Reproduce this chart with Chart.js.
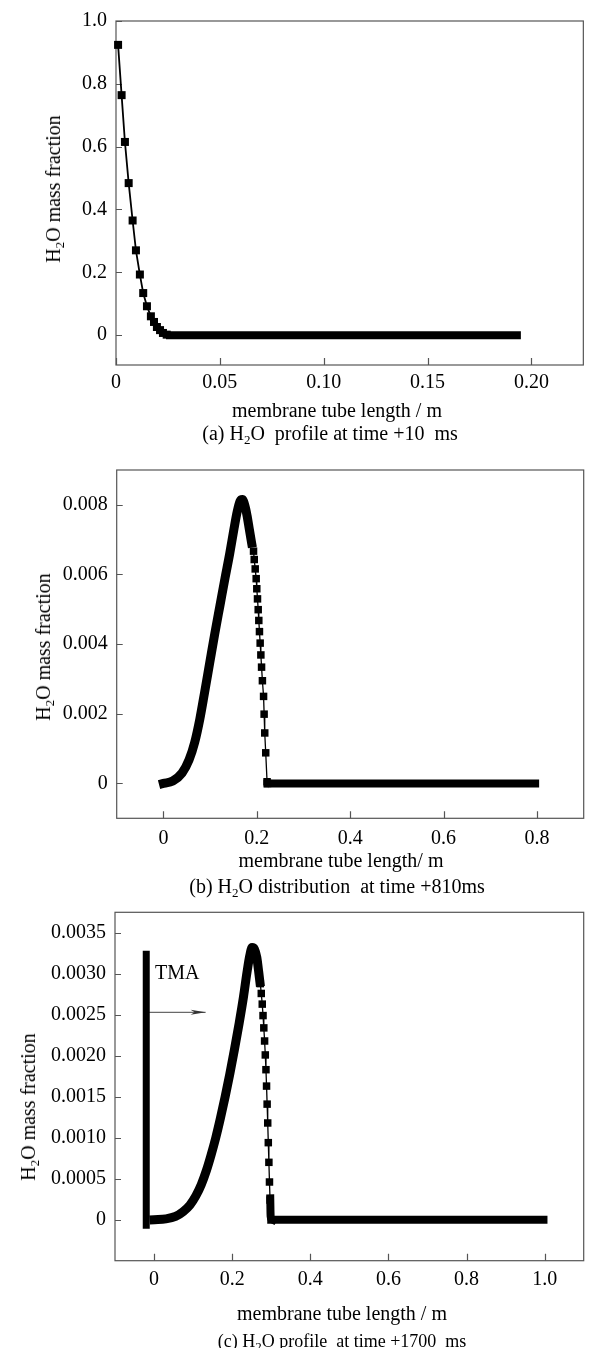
<!DOCTYPE html>
<html><head><meta charset="utf-8">
<script src="https://cdn.jsdelivr.net/npm/chart.js@4.4.1/dist/chart.umd.min.js"></script>
<style>
html,body{margin:0;padding:0;background:#fff;}
#wrap{position:relative;width:589px;height:1348px;overflow:hidden;font-family:'Liberation Serif','Times New Roman',serif;color:#000;}
canvas{position:absolute;left:0;}
.t{position:absolute;white-space:nowrap;font-size:20px;line-height:1;transform:translate(-50%,-50%);}
.r{transform:translate(-50%,-50%) rotate(-90deg);}
sub{font-size:13px;vertical-align:-4px;line-height:0;}
</style></head>
<body><div id="wrap">
<canvas id="ca" width="589" height="440" style="top:0"></canvas>
<canvas id="cb" width="589" height="450" style="top:440px"></canvas>
<canvas id="cc" width="589" height="458" style="top:890px"></canvas>

<div class="t r" style="left:53px;top:189px">H<sub>2</sub>O mass fraction</div>
<div class="t" style="left:337px;top:410px">membrane tube length / m</div>
<div class="t" style="left:330px;top:433px">(a) H<sub>2</sub>O&nbsp; profile at time +10&nbsp; ms</div>

<div class="t r" style="left:43px;top:647px">H<sub>2</sub>O mass fraction</div>
<div class="t" style="left:341px;top:860px">membrane tube length/ m</div>
<div class="t" style="left:337px;top:886px">(b) H<sub>2</sub>O distribution&nbsp; at time +810ms</div>

<div class="t r" style="left:28px;top:1107px">H<sub>2</sub>O mass fraction</div>
<div class="t" style="left:342px;top:1313px">membrane tube length / m</div>
<div class="t" style="left:342px;top:1341px;font-size:18px">(c) H<sub>2</sub>O profile&nbsp; at time +1700&nbsp; ms</div>
<div class="t" style="left:155px;top:972px;transform:translate(0,-50%)">TMA</div>
</div>
<script>
// ---------- Panel (a): H2O profile at +10 ms ----------
const aMarkX = [0.001, 0.0027, 0.0043, 0.0061, 0.0080, 0.0096, 0.0115, 0.0131, 0.0149, 0.0168, 0.0183, 0.0197, 0.0212, 0.0226, 0.0244];
const aMarkY = [0.924, 0.764, 0.615, 0.484, 0.365, 0.270, 0.193, 0.134, 0.092, 0.060, 0.042, 0.026, 0.016, 0.007, 0.0016];
const aFlatX = [0.026, 0.193];
const aFlatY = [0, 0];
const aXTicks = [0, 0.05, 0.10, 0.15, 0.20];
const aXLabels = ['0', '0.05', '0.10', '0.15', '0.20'];
const aYTicks = [0, 0.2, 0.4, 0.6, 0.8, 1.0];
const aYLabels = ['0', '0.2', '0.4', '0.6', '0.8', '1.0'];

// ---------- Panel (b): H2O distribution at +810 ms ----------
const bBandX = [0, 0.02, 0.04, 0.055, 0.067, 0.078, 0.088, 0.099, 0.110, 0.121, 0.132, 0.142, 0.151, 0.158, 0.164, 0.169, 0.174, 0.179, 0.184, 0.189];
const bBandY = [0, 0.00007, 0.0003, 0.00068, 0.00118, 0.00185, 0.0026, 0.00345, 0.0043, 0.0051, 0.0059, 0.0066, 0.0073, 0.0078, 0.0081, 0.00815, 0.0080, 0.0077, 0.0073, 0.0069];
const bMarkX = [0.193, 0.1945, 0.1966, 0.1987, 0.2000, 0.2015, 0.2030, 0.2043, 0.2057, 0.2072, 0.2087, 0.2102, 0.2120, 0.2145, 0.2157, 0.2170, 0.2191, 0.2220, 0.2230];
const bMarkY = [0.00667, 0.00643, 0.00616, 0.00588, 0.00559, 0.0053, 0.00499, 0.00468, 0.00436, 0.00403, 0.00369, 0.00334, 0.00295, 0.0025, 0.00199, 0.00145, 0.00088, 0.00005, 0];
const bFlatX = [0.223, 0.796];
const bFlatY = [0, 0];
const bXTicks = [0, 0.2, 0.4, 0.6, 0.8];
const bXLabels = ['0', '0.2', '0.4', '0.6', '0.8'];
const bYTicks = [0, 0.002, 0.004, 0.006, 0.008];
const bYLabels = ['0', '0.002', '0.004', '0.006', '0.008'];

// ---------- Panel (c): H2O profile at +1700 ms ----------
const cBandX = [0, 0.03, 0.055, 0.075, 0.092, 0.107, 0.121, 0.134, 0.146, 0.158, 0.170, 0.182, 0.194, 0.206, 0.218, 0.229, 0.238, 0.245, 0.251, 0.257, 0.263, 0.268, 0.271];
const cBandY = [0, 0.00001, 0.00004, 0.0001, 0.00018, 0.00029, 0.00043, 0.0006, 0.00079, 0.001, 0.00124, 0.0015, 0.00178, 0.00208, 0.0024, 0.00272, 0.00302, 0.00322, 0.00332, 0.0033, 0.0032, 0.00302, 0.0029];
const cMarkX = [0.272, 0.2745, 0.277, 0.279, 0.281, 0.283, 0.2848, 0.2865, 0.288, 0.2895, 0.291, 0.2925, 0.294, 0.2955, 0.297];
const cMarkY = [0.00288, 0.00276, 0.00263, 0.00249, 0.00234, 0.00218, 0.00201, 0.00183, 0.00163, 0.00141, 0.00118, 0.00094, 0.0007, 0.00046, 0.00024];
const cFrontX = [0.2975, 0.298, 0.2985, 0.300, 0.304];
const cFrontY = [0.00026, 0.00012, 0.00004, 0.00001, 0];
const cFlatX = [0.30, 0.997];
const cFlatY = [0, 0];
const tmaX = [-0.02, -0.02];
const tmaY = [-0.00011, 0.00328];
const arrowX = [-0.02, 0.132];
const arrowY = [0.00253, 0.00253];
const cXTicks = [0, 0.2, 0.4, 0.6, 0.8, 1.0];
const cXLabels = ['0', '0.2', '0.4', '0.6', '0.8', '1.0'];
const cYTicks = [0, 0.0005, 0.0010, 0.0015, 0.0020, 0.0025, 0.0030, 0.0035];
const cYLabels = ['0', '0.0005', '0.0010', '0.0015', '0.0020', '0.0025', '0.0030', '0.0035'];

const FONT = "'Liberation Serif', 'Times New Roman', serif";
const pts = (xs, ys) => xs.map((x, i) => ({x: x, y: ys[i]}));

const frameTicks = {
  id: 'frameTicks',
  beforeDatasetsDraw(chart) {
    const {ctx, chartArea: {left, top, right, bottom}, scales: {x, y}} = chart;
    ctx.save();
    ctx.strokeStyle = '#555';
    ctx.lineWidth = 1.2;
    ctx.strokeRect(left, top, right - left, bottom - top);
    ctx.beginPath();
    x.ticks.forEach(t => { const px = Math.round(x.getPixelForValue(t.value)) + 0.5; ctx.moveTo(px, bottom); ctx.lineTo(px, bottom - 7); });
    y.ticks.forEach(t => { const py = Math.round(y.getPixelForValue(t.value)) + 0.5; ctx.moveTo(left, py); ctx.lineTo(left + 6, py); });
    ctx.stroke();
    ctx.restore();
  }
};

const arrowHead = {
  id: 'arrowHead',
  afterDatasetsDraw(chart, args, opts) {
    if (!opts.enabled) return;
    const {ctx, scales: {x, y}} = chart;
    const px = x.getPixelForValue(arrowX[1]);
    const py = y.getPixelForValue(arrowY[1]);
    ctx.save();
    ctx.fillStyle = '#333';
    ctx.beginPath();
    ctx.moveTo(px, py);
    ctx.lineTo(px - 15, py - 2.5);
    ctx.lineTo(px - 11, py);
    ctx.lineTo(px - 15, py + 2.5);
    ctx.closePath();
    ctx.fill();
    ctx.restore();
  }
};

function band(xs, ys, w) {
  return {data: pts(xs, ys), borderColor: '#000', borderWidth: w, pointRadius: 0,
    cubicInterpolationMode: 'monotone', borderCapStyle: 'square', borderJoinStyle: 'round', clip: false};
}
function markers(xs, ys, r, lw) {
  return {data: pts(xs, ys), borderColor: '#000', borderWidth: lw, pointStyle: 'rect',
    pointRadius: r, pointBackgroundColor: '#000', pointBorderWidth: 0, clip: false};
}

function panel(id, p) {
  return new Chart(document.getElementById(id), {
    type: 'line',
    data: {datasets: p.datasets},
    options: {
      responsive: false, animation: false, devicePixelRatio: 1,
      layout: {padding: {top: p.top, right: p.right, left: 0, bottom: 0}},
      plugins: {legend: {display: false}, tooltip: {enabled: false}, arrowHead: {enabled: !!p.arrow}},
      scales: {
        x: {type: 'linear', min: p.xMin, max: p.xMax,
          grid: {display: false, drawTicks: false}, border: {display: false},
          afterFit: s => { s.height = p.xH; },
          afterBuildTicks: s => { s.ticks = p.xTicks.map(v => ({value: v})); },
          ticks: {autoSkip: false, maxRotation: 0, padding: p.xPad, color: '#000',
            font: {family: FONT, size: 20}, callback: (v, i) => p.xLabels[i]}},
        y: {type: 'linear', min: p.yMin, max: p.yMax,
          grid: {display: false, drawTicks: false}, border: {display: false},
          afterFit: s => { s.width = p.left; },
          afterBuildTicks: s => { s.ticks = p.yTicks.map(v => ({value: v})); },
          ticks: {autoSkip: false, padding: p.yPad, color: '#000',
            font: {family: FONT, size: 20}, callback: (v, i) => p.yLabels[i]}}
      }
    },
    plugins: [frameTicks, arrowHead]
  });
}

panel('ca', {
  top: 20, right: 4, left: 116, xH: 75, xPad: 6, yPad: 9,
  xMin: 0, xMax: 0.225, yMin: -0.095, yMax: 1.0,
  xTicks: aXTicks, xLabels: aXLabels, yTicks: aYTicks, yLabels: aYLabels,
  datasets: [markers(aMarkX, aMarkY, 5.66, 1.8), band(aFlatX, aFlatY, 8)]
});

panel('cb', {
  top: 30, right: 2.3, left: 116.7, xH: 71.7, xPad: 8, yPad: 9,
  xMin: -0.1, xMax: 0.9, yMin: -0.001, yMax: 0.009,
  xTicks: bXTicks, xLabels: bXLabels, yTicks: bYTicks, yLabels: bYLabels,
  datasets: [markers(bMarkX, bMarkY, 5.3, 1.3), band(bBandX, bBandY, 9), band(bFlatX, bFlatY, 8)]
});

panel('cc', {
  top: 22.3, right: 4, left: 115, xH: 87.3, xPad: 7, yPad: 9,
  xMin: -0.1, xMax: 1.1, yMin: -0.0005, yMax: 0.00375, arrow: true,
  xTicks: cXTicks, xLabels: cXLabels, yTicks: cYTicks, yLabels: cYLabels,
  datasets: [
    {data: pts(tmaX, tmaY), borderColor: '#000', borderWidth: 7, pointRadius: 0, borderCapStyle: 'butt', clip: false},
    {data: pts(arrowX, arrowY), borderColor: '#444', borderWidth: 1, pointRadius: 0, clip: false},
    markers(cMarkX, cMarkY, 5.3, 1.3),
    band(cBandX, cBandY, 9), band(cFrontX, cFrontY, 8), band(cFlatX, cFlatY, 8)
  ]
});
</script>
</body></html>
